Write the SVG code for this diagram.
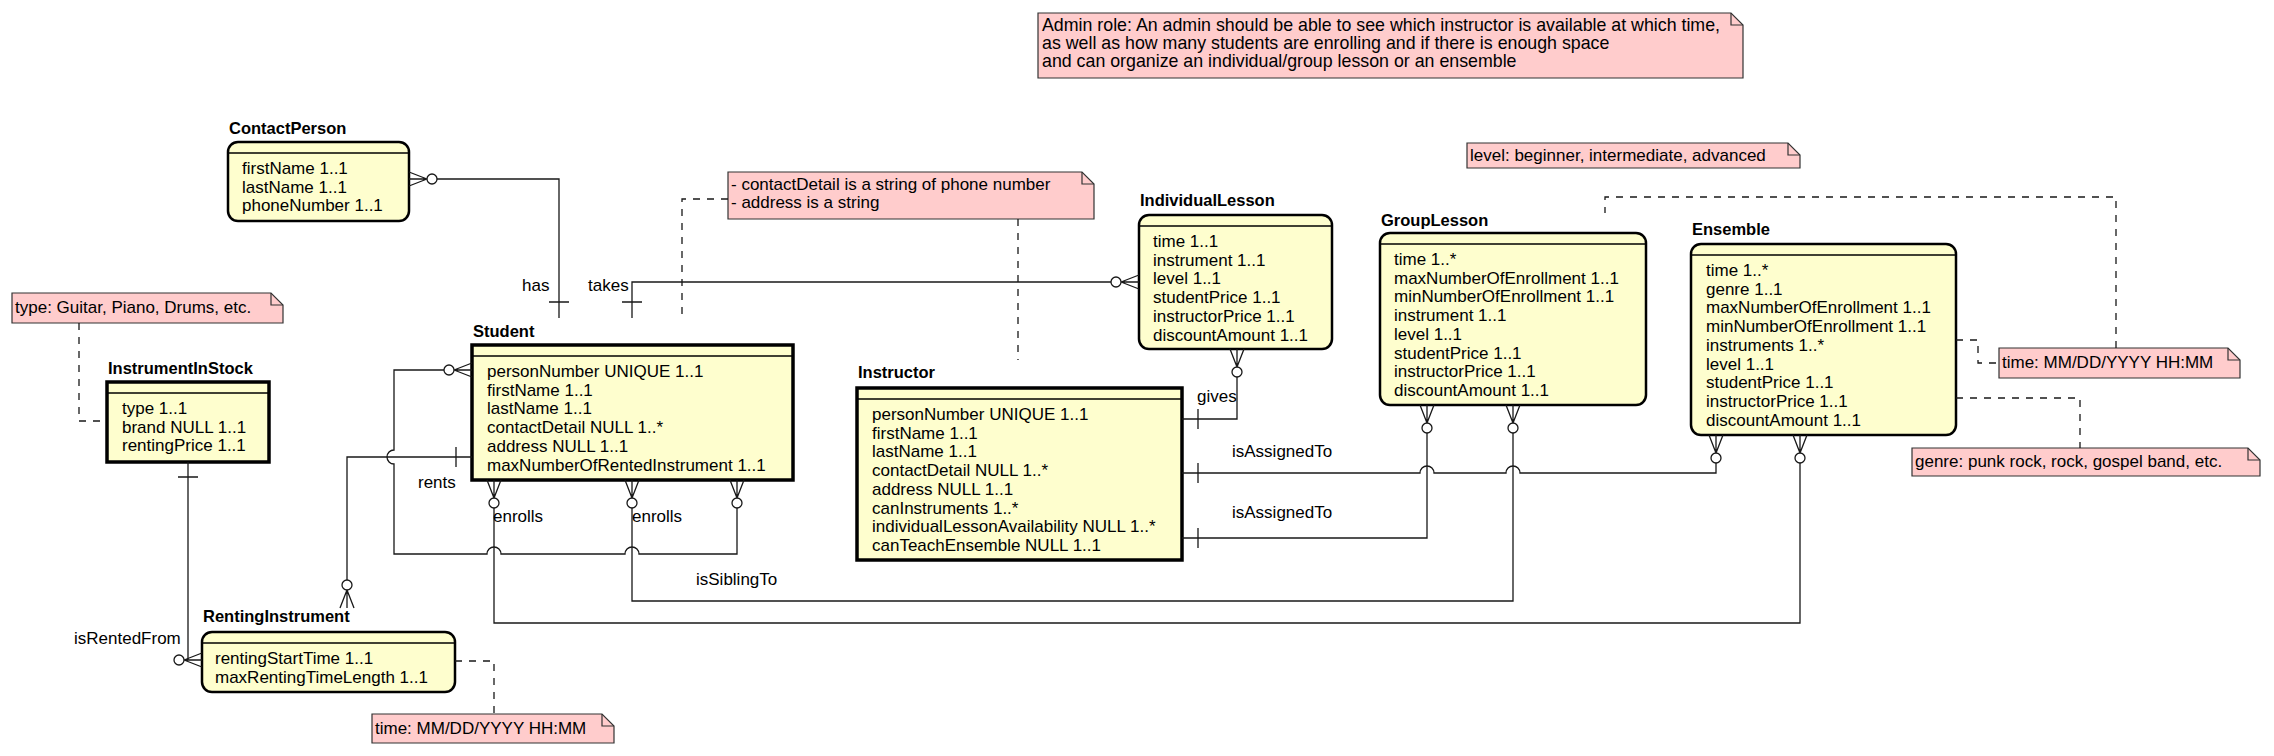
<svg xmlns="http://www.w3.org/2000/svg" xmlns:xlink="http://www.w3.org/1999/xlink" width="2274" height="756" viewBox="0 0 2274 756">
<style>
.ent{fill:#FEFECE;stroke:#000;stroke-width:2.5}
.entb{fill:#FEFECE;stroke:#000;stroke-width:3.5}
.sep{stroke:#000;stroke-width:1.5}
.title{font-family:"Liberation Sans",Arial,sans-serif;font-size:16.5px;font-weight:bold;fill:#000}
.attr{font-family:"Liberation Sans",Arial,sans-serif;font-size:17px;fill:#000}
.lbl{font-family:"Liberation Sans",Arial,sans-serif;font-size:17px;fill:#000}
.big{font-size:17.8px}
.note{fill:#FFCCCC;stroke:#333;stroke-width:1.2}
.fold{fill:none;stroke:#333;stroke-width:1.2}
.ln{fill:none;stroke:#181818;stroke-width:1.3}
.dash{fill:none;stroke:#181818;stroke-width:1.3;stroke-dasharray:7 7}
</style>
<defs>
<g id="crowO"><path class="ln" d="M18,0 L0,-7 M18,0 L0,7 M0,0 L18,0"/><circle cx="23" cy="0" r="5" fill="#fff" stroke="#181818" stroke-width="1.3"/></g>
</defs>

<!-- Notes -->
<g id="note-admin">
<path class="note" d="M1038,13 H1731 L1743,25 V78 H1038 Z"/><path class="fold" d="M1731,13 V25 H1743"/>
<text class="lbl big" x="1042" y="31">Admin role: An admin should be able to see which instructor is available at which time,</text>
<text class="lbl big" x="1042" y="49">as well as how many students are enrolling and if there is enough space</text>
<text class="lbl big" x="1042" y="67">and can organize an individual/group lesson or an ensemble</text>
</g>
<g id="note-level">
<path class="note" d="M1467,143 H1788 L1800,155 V168 H1467 Z"/><path class="fold" d="M1788,143 V155 H1800"/>
<text class="lbl" x="1470" y="161">level: beginner, intermediate, advanced</text>
</g>
<g id="note-contact">
<path class="note" d="M728,172 H1082 L1094,184 V219 H728 Z"/><path class="fold" d="M1082,172 V184 H1094"/>
<text class="lbl" x="731" y="190">- contactDetail is a string of phone number</text>
<text class="lbl" x="731" y="208">- address is a string</text>
</g>
<g id="note-type">
<path class="note" d="M12,293 H271 L283,305 V323 H12 Z"/><path class="fold" d="M271,293 V305 H283"/>
<text class="lbl" x="15" y="313">type: Guitar, Piano, Drums, etc.</text>
</g>
<g id="note-time1">
<path class="note" d="M372,714 H602 L614,726 V743 H372 Z"/><path class="fold" d="M602,714 V726 H614"/>
<text class="lbl" x="375" y="734">time: MM/DD/YYYY HH:MM</text>
</g>
<g id="note-time2">
<path class="note" d="M1999,348 H2228 L2240,360 V378 H1999 Z"/><path class="fold" d="M2228,348 V360 H2240"/>
<text class="lbl" x="2002" y="368">time: MM/DD/YYYY HH:MM</text>
</g>
<g id="note-genre">
<path class="note" d="M1912,448 H2248 L2260,460 V476 H1912 Z"/><path class="fold" d="M2248,448 V460 H2260"/>
<text class="lbl" x="1915" y="467">genre: punk rock, rock, gospel band, etc.</text>
</g>

<!-- Entities -->
<g id="ContactPerson">
<text class="title" x="229" y="134">ContactPerson</text>
<rect class="ent" x="228" y="142" width="181" height="79" rx="10"/>
<line class="sep" x1="228" y1="153" x2="409" y2="153"/>
<text class="attr"><tspan x="242" y="174">firstName 1..1</tspan><tspan x="242" y="192.7">lastName 1..1</tspan><tspan x="242" y="211.4">phoneNumber 1..1</tspan></text>
</g>
<g id="InstrumentInStock">
<text class="title" x="108" y="374">InstrumentInStock</text>
<rect class="entb" x="107" y="382" width="162" height="80"/>
<line class="sep" x1="107" y1="393" x2="269" y2="393"/>
<text class="attr"><tspan x="122" y="414">type 1..1</tspan><tspan x="122" y="432.7">brand NULL 1..1</tspan><tspan x="122" y="451.4">rentingPrice 1..1</tspan></text>
</g>
<g id="Student">
<text class="title" x="473" y="337">Student</text>
<rect class="entb" x="472" y="345" width="321" height="135"/>
<line class="sep" x1="472" y1="356" x2="793" y2="356"/>
<text class="attr"><tspan x="487" y="377">personNumber UNIQUE 1..1</tspan><tspan x="487" y="395.7">firstName 1..1</tspan><tspan x="487" y="414.4">lastName 1..1</tspan><tspan x="487" y="433.1">contactDetail NULL 1..*</tspan><tspan x="487" y="451.8">address NULL 1..1</tspan><tspan x="487" y="470.5">maxNumberOfRentedInstrument 1..1</tspan></text>
</g>
<g id="RentingInstrument">
<text class="title" x="203" y="622">RentingInstrument</text>
<rect class="ent" x="202" y="632" width="253" height="60" rx="10"/>
<line class="sep" x1="202" y1="643" x2="455" y2="643"/>
<text class="attr"><tspan x="215" y="664">rentingStartTime 1..1</tspan><tspan x="215" y="682.7">maxRentingTimeLength 1..1</tspan></text>
</g>
<g id="IndividualLesson">
<text class="title" x="1140" y="206">IndividualLesson</text>
<rect class="ent" x="1139" y="215" width="193" height="134" rx="10"/>
<line class="sep" x1="1139" y1="226" x2="1332" y2="226"/>
<text class="attr"><tspan x="1153" y="247">time 1..1</tspan><tspan x="1153" y="265.7">instrument 1..1</tspan><tspan x="1153" y="284.4">level 1..1</tspan><tspan x="1153" y="303.1">studentPrice 1..1</tspan><tspan x="1153" y="321.8">instructorPrice 1..1</tspan><tspan x="1153" y="340.5">discountAmount 1..1</tspan></text>
</g>
<g id="Instructor">
<text class="title" x="858" y="378">Instructor</text>
<rect class="entb" x="857" y="388" width="325" height="172"/>
<line class="sep" x1="857" y1="399" x2="1182" y2="399"/>
<text class="attr"><tspan x="872" y="420">personNumber UNIQUE 1..1</tspan><tspan x="872" y="438.7">firstName 1..1</tspan><tspan x="872" y="457.4">lastName 1..1</tspan><tspan x="872" y="476.1">contactDetail NULL 1..*</tspan><tspan x="872" y="494.8">address NULL 1..1</tspan><tspan x="872" y="513.5">canInstruments 1..*</tspan><tspan x="872" y="532.2">individualLessonAvailability NULL 1..*</tspan><tspan x="872" y="550.9">canTeachEnsemble NULL 1..1</tspan></text>
</g>
<g id="GroupLesson">
<text class="title" x="1381" y="226">GroupLesson</text>
<rect class="ent" x="1380" y="233" width="266" height="172" rx="10"/>
<line class="sep" x1="1380" y1="244" x2="1646" y2="244"/>
<text class="attr"><tspan x="1394" y="265">time 1..*</tspan><tspan x="1394" y="283.7">maxNumberOfEnrollment 1..1</tspan><tspan x="1394" y="302.4">minNumberOfEnrollment 1..1</tspan><tspan x="1394" y="321.1">instrument 1..1</tspan><tspan x="1394" y="339.8">level 1..1</tspan><tspan x="1394" y="358.5">studentPrice 1..1</tspan><tspan x="1394" y="377.2">instructorPrice 1..1</tspan><tspan x="1394" y="395.9">discountAmount 1..1</tspan></text>
</g>
<g id="Ensemble">
<text class="title" x="1692" y="235">Ensemble</text>
<rect class="ent" x="1691" y="244" width="265" height="191" rx="10"/>
<line class="sep" x1="1691" y1="255" x2="1956" y2="255"/>
<text class="attr"><tspan x="1706" y="276">time 1..*</tspan><tspan x="1706" y="294.7">genre 1..1</tspan><tspan x="1706" y="313.4">maxNumberOfEnrollment 1..1</tspan><tspan x="1706" y="332.1">minNumberOfEnrollment 1..1</tspan><tspan x="1706" y="350.8">instruments 1..*</tspan><tspan x="1706" y="369.5">level 1..1</tspan><tspan x="1706" y="388.2">studentPrice 1..1</tspan><tspan x="1706" y="406.9">instructorPrice 1..1</tspan><tspan x="1706" y="425.6">discountAmount 1..1</tspan></text>
</g>

<!-- Connectors -->
<g id="connectors">
<!-- note links -->
<path class="dash" d="M728,199 H682 V320"/>
<path class="dash" d="M1018,219 V360"/>
<path class="dash" d="M79,323 V421 H107"/>
<path class="dash" d="M455,661 H494 V714"/>
<path class="dash" d="M1956,340 H1978 V363 H1999"/>
<path class="dash" d="M2116,348 V197 H1605 V213"/>
<path class="dash" d="M1956,398 H2080 V448"/>

<!-- has -->
<path class="ln" d="M437,179 H559 V318 M549,302 H569"/>
<use xlink:href="#crowO" transform="translate(409,179)"/>
<text class="lbl" x="522" y="291">has</text>
<!-- takes -->
<path class="ln" d="M632,318 V282 H1111 M622,302 H642"/>
<use xlink:href="#crowO" transform="translate(1139,282) rotate(180)"/>
<text class="lbl" x="588" y="291">takes</text>
<!-- gives -->
<path class="ln" d="M1182,419 H1237 V376 M1198,409 V429"/>
<use xlink:href="#crowO" transform="translate(1237,349) rotate(90)"/>
<text class="lbl" x="1197" y="402">gives</text>
<!-- isAssignedTo Ensemble -->
<path class="ln" d="M1182,473 H1420 A7,7 0 0 1 1434,473 H1506 A7,7 0 0 1 1520,473 H1716 V463 M1198,463 V483"/>
<use xlink:href="#crowO" transform="translate(1716,435) rotate(90)"/>
<text class="lbl" x="1232" y="457">isAssignedTo</text>
<!-- isAssignedTo GroupLesson -->
<path class="ln" d="M1182,538 H1427 V433 M1198,528 V548"/>
<use xlink:href="#crowO" transform="translate(1427,405) rotate(90)"/>
<text class="lbl" x="1232" y="518">isAssignedTo</text>
<!-- enrolls Ensemble -->
<path class="ln" d="M494,508 V623 H1800 V463"/>
<use xlink:href="#crowO" transform="translate(494,480) rotate(90)"/>
<use xlink:href="#crowO" transform="translate(1800,435) rotate(90)"/>
<text class="lbl" x="493" y="522">enrolls</text>
<!-- enrolls GroupLesson -->
<path class="ln" d="M632,508 V601 H1513 V433"/>
<use xlink:href="#crowO" transform="translate(632,480) rotate(90)"/>
<use xlink:href="#crowO" transform="translate(1513,405) rotate(90)"/>
<text class="lbl" x="632" y="522">enrolls</text>
<!-- isSiblingTo -->
<path class="ln" d="M737,508 V554 H639 A7,7 0 0 0 625,554 H501 A7,7 0 0 0 487,554 H394 V464 A7,7 0 0 1 394,450 V370 H444"/>
<use xlink:href="#crowO" transform="translate(737,480) rotate(90)"/>
<use xlink:href="#crowO" transform="translate(472,370) rotate(180)"/>
<text class="lbl" x="696" y="585">isSiblingTo</text>
<!-- rents -->
<path class="ln" d="M472,457 H347 V580 M456,447 V467"/>
<use xlink:href="#crowO" transform="translate(347,608) rotate(-90)"/>
<text class="lbl" x="418" y="488">rents</text>
<!-- isRentedFrom -->
<path class="ln" d="M188,462 V660 M178,477 H198"/>
<use xlink:href="#crowO" transform="translate(202,660) rotate(180)"/>
<text class="lbl" x="74" y="644">isRentedFrom</text>
</g>
</svg>
